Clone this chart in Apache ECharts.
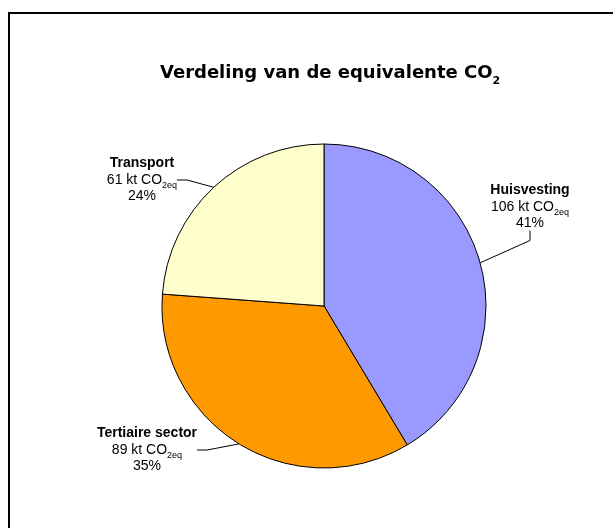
<!DOCTYPE html>
<html><head><meta charset="utf-8">
<script src="https://cdn.jsdelivr.net/npm/echarts@6/dist/echarts.min.js"></script>
<style>html,body{margin:0;padding:0;background:#fff}#c{width:613px;height:528px}</style>
</head><body><div id="c"></div>
<script>
const categories = ['Huisvesting', 'Tertiaire sector', 'Transport'];
const values = [106, 89, 61];
const percents = ['41%', '35%', '24%'];
const unitLabel = 'kt CO';
const colors = ['#9999FF', '#FF9900', '#FFFFCC'];
const labelPos = [[530, 207], [147, 450], [142, 180]];

const chart = echarts.init(document.getElementById('c'));
chart.setOption({
  backgroundColor: '#fff',
  animation: false,
  title: {
    text: '{t|Verdeling van de equivalente CO}{s|2}',
    left: 155, top: 53,
    textStyle: {
      rich: {
        t: {fontFamily: 'DejaVu Sans', fontWeight: 'bold', fontSize: 18, color: '#000', lineHeight: 24, verticalAlign: 'bottom'},
        s: {fontFamily: 'DejaVu Sans', fontWeight: 'bold', fontSize: 11, color: '#000', verticalAlign: 'bottom', padding: [0, 0, -5, 0]}
      }
    }
  },
  graphic: [{type: 'rect', shape: {x: 9, y: 13, width: 640, height: 560}, style: {fill: 'none', stroke: '#000', lineWidth: 2}, silent: true, z: -1}],
  series: [{
    type: 'pie',
    center: [324, 306],
    radius: [0, 162],
    startAngle: 90,
    clockwise: true,
    data: categories.map((n, i) => ({name: n, value: values[i], itemStyle: {color: colors[i]}})),
    itemStyle: {borderColor: '#000', borderWidth: 1},
    label: {
      show: true,
      position: 'outside',
      formatter: p => '{b|' + p.name + '}\n{n|' + p.value + ' ' + unitLabel + '}{s|2eq}\n{n|' + percents[p.dataIndex] + '}',
      rich: {
        b: {fontFamily: 'Liberation Sans', fontWeight: 'bold', fontSize: 14, color: '#000', lineHeight: 16.5, align: 'center'},
        n: {fontFamily: 'Liberation Sans', fontSize: 14, color: '#000', lineHeight: 16.5, align: 'center'},
        s: {fontFamily: 'Liberation Sans', fontSize: 9, color: '#000', verticalAlign: 'bottom', padding: [0, 0, -2, 0]}
      }
    },
    labelLine: {show: true, length: 10, length2: 10, lineStyle: {color: '#000', width: 1}},
    labelLayout: p => ({x: labelPos[p.dataIndex][0], y: labelPos[p.dataIndex][1], align: 'center', verticalAlign: 'middle'}),
    emphasis: {disabled: true}
  }]
});
</script></body></html>
